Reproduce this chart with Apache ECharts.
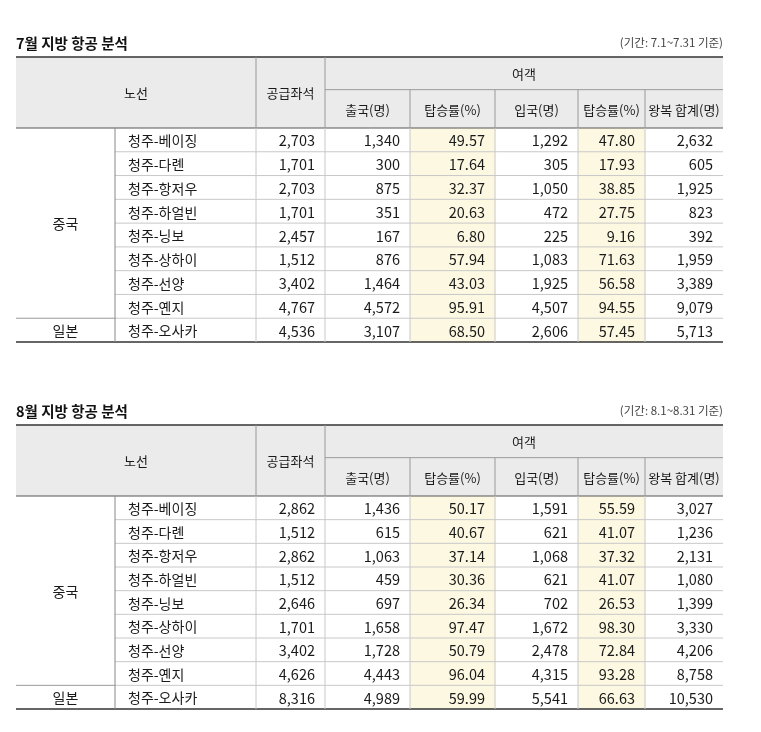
<!DOCTYPE html>
<html><head><meta charset="utf-8">
<script src="https://cdn.jsdelivr.net/npm/echarts@6/dist/echarts.min.js"></script>
<style>html,body{margin:0;background:#fff}#c{width:761px;height:732px}</style>
</head><body><div id="c"></div>
<script>
// 데이터
const routes = ['청주-베이징','청주-다롄','청주-항저우','청주-하얼빈','청주-닝보','청주-상하이','청주-선양','청주-옌지','청주-오사카'];
const regions = [['중국', 0, 8], ['일본', 8, 9]];
const headers = ['출국(명)', '탑승률(%)', '입국(명)', '탑승률(%)', '왕복 합계(명)'];

const julSeats = ['2,703','1,701','2,703','1,701','2,457','1,512','3,402','4,767','4,536'];
const julOut = ['1,340','300','875','351','167','876','1,464','4,572','3,107'];
const julOutRate = ['49.57','17.64','32.37','20.63','6.80','57.94','43.03','95.91','68.50'];
const julIn = ['1,292','305','1,050','472','225','1,083','1,925','4,507','2,606'];
const julInRate = ['47.80','17.93','38.85','27.75','9.16','71.63','56.58','94.55','57.45'];
const julTotal = ['2,632','605','1,925','823','392','1,959','3,389','9,079','5,713'];

const augSeats = ['2,862','1,512','2,862','1,512','2,646','1,701','3,402','4,626','8,316'];
const augOut = ['1,436','615','1,063','459','697','1,658','1,728','4,443','4,989'];
const augOutRate = ['50.17','40.67','37.14','30.36','26.34','97.47','50.79','96.04','59.99'];
const augIn = ['1,591','621','1,068','621','702','1,672','2,478','4,315','5,541'];
const augInRate = ['55.59','41.07','37.32','41.07','26.53','98.30','72.84','93.28','66.63'];
const augTotal = ['3,027','1,236','2,131','1,080','1,399','3,330','4,206','8,758','10,530'];

const tables = [
  { title: '7월 지방 항공 분석', note: '(기간: 7.1~7.31 기준)', top: 57, body: 128, bottom: 342,
    cols: [julSeats, julOut, julOutRate, julIn, julInRate, julTotal] },
  { title: '8월 지방 항공 분석', note: '(기간: 8.1~8.31 기준)', top: 425, body: 496, bottom: 709,
    cols: [augSeats, augOut, augOutRate, augIn, augInRate, augTotal] }
];

// 레이아웃
const E = [16, 115, 256, 325, 410, 495, 578, 645, 723];
const FONT = '"Noto Sans CJK KR", sans-serif';

const cells = []; // [x0,y0,x1,y1,text,align,fill,bold,size,color]
const lines = []; // [x0,y0,x1,y1,color,width]
tables.forEach(t => {
  const mid = t.top + (t.body - t.top) * 0.46;
  const rh = (t.bottom - t.body) / routes.length;
  cells.push([E[0], t.top - 26, E[0] + 300, t.top - 4, t.title, 'left', null, true, 14.5, '#111']);
  cells.push([E[8] - 300, t.top - 26, E[8], t.top - 4, t.note, 'right', null, false, 11.5, '#444']);
  cells.push([E[0], t.top, E[8], t.body, '', 'center', '#ebebeb']);
  cells.push([E[0], t.top, E[2], t.body, '노선', 'center']);
  cells.push([E[2], t.top, E[3], t.body, '공급좌석', 'center']);
  cells.push([E[3], t.top, E[8], mid, '여객', 'center']);
  headers.forEach((h, i) => cells.push([E[3 + i], mid, E[4 + i], t.body, h, 'center']));
  regions.forEach(([r, a, b]) => cells.push([E[0], t.body + a * rh, E[1], t.body + b * rh, r, 'center', null, false, 14]));
  routes.forEach((r, i) => {
    const y0 = t.body + i * rh, y1 = y0 + rh;
    cells.push([E[1], y0, E[2], y1, r, 'left', null, false, 14, null, 13]);
    t.cols.forEach((col, j) => {
      const fill = (j === 2 || j === 4) ? '#fdf8e1' : null;
      cells.push([E[2 + j], y0, E[3 + j], y1, col[i], 'right', fill, false, 14.5, null, 10]);
    });
    if (i > 0) lines.push([E[1], y0, E[8], y0, '#c8c8c8', 1]);
  });
  lines.push([E[0], t.body + 8 * rh, E[1], t.body + 8 * rh, '#999', 1]);
  lines.push([E[0], t.top, E[8], t.top, '#333', 1.5]);
  lines.push([E[0], t.body, E[8], t.body, '#555', 1]);
  lines.push([E[0], t.bottom, E[8], t.bottom, '#333', 1.5]);
  lines.push([E[3], mid, E[8], mid, '#999', 1]);
  [2, 3].forEach(k => lines.push([E[k], t.top, E[k], t.body, '#999', 1]));
  [4, 5, 6, 7].forEach(k => lines.push([E[k], mid, E[k], t.body, '#999', 1]));
  [1, 2, 3, 4, 5, 6, 7].forEach(k => lines.push([E[k], t.body, E[k], t.bottom, k === 1 ? '#888' : '#c8c8c8', 1]));
});

const chart = echarts.init(document.getElementById('c'));
chart.setOption({
  animation: false,
  grid: { left: 0, right: 0, top: 0, bottom: 0 },
  xAxis: { type: 'value', min: 0, max: 761, show: false },
  yAxis: { type: 'value', min: 0, max: 732, inverse: true, show: false },
  series: [{
    type: 'custom', data: cells.map((c, i) => [i]), silent: true,
    renderItem: (params, api) => {
      const c = cells[params.dataIndex];
      const p0 = api.coord([c[0], c[1]]), p1 = api.coord([c[2], c[3]]);
      const pad = c[10] || 0;
      const ch = [];
      if (c[6]) ch.push({ type: 'rect', shape: { x: p0[0], y: p0[1], width: p1[0] - p0[0], height: p1[1] - p0[1] }, style: { fill: c[6] } });
      if (c[4]) {
        const x = c[5] === 'left' ? p0[0] + pad : c[5] === 'right' ? p1[0] - pad : (p0[0] + p1[0]) / 2;
        ch.push({ type: 'text', style: { text: c[4], x, y: (p0[1] + p1[1]) / 2 + 1, align: c[5], verticalAlign: 'middle',
          font: (c[7] ? 'bold ' : '') + (c[8] || 13) + 'px ' + FONT, fill: c[9] || '#1a1a1a' } });
      }
      return { type: 'group', children: ch };
    }
  }, {
    type: 'custom', data: lines.map((l, i) => [i]), silent: true, z: 3,
    renderItem: (params, api) => {
      const l = lines[params.dataIndex];
      const a = api.coord([l[0], l[1]]), b = api.coord([l[2], l[3]]);
      return { type: 'line', shape: { x1: a[0], y1: a[1], x2: b[0], y2: b[1] }, style: { stroke: l[4], lineWidth: l[5] } };
    }
  }]
});
</script></body></html>
